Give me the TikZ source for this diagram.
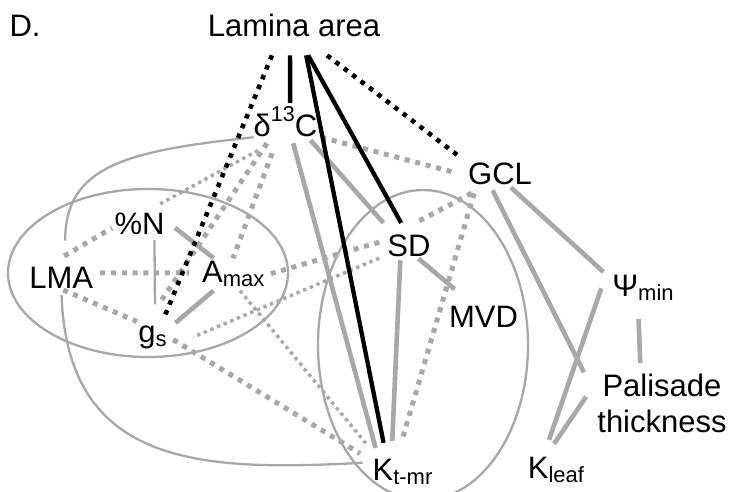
\documentclass[tikz,border=0pt]{standalone}
\usepackage{fontspec}
\setmainfont{Liberation Sans}
\definecolor{linkgray}{RGB}{168,168,168}
\newcommand{\subtxt}[1]{\raisebox{-4pt}{\fontsize{22}{24}\selectfont #1}}
\newcommand{\suptxt}[1]{\raisebox{15pt}{\fontsize{21.5}{24}\selectfont #1}}
\tikzset{
  txt/.style={anchor=base, inner sep=0pt, outer sep=0pt, font=\fontsize{31}{36}\selectfont},
  strong/.style={line width=4.3pt, black},
  strongdot/.style={line width=4.6pt, black, dash pattern=on 4.6pt off 6pt},
  link/.style={line width=4.6pt, linkgray},
  linkdot/.style={line width=5pt, linkgray, dash pattern=on 5pt off 5.8pt},
  faint/.style={line width=2.3pt, linkgray},
  faintdot/.style={line width=3.4pt, linkgray, dash pattern=on 3.4pt off 3.8pt},
}
\begin{document}
\begin{tikzpicture}[x=1pt, y=1pt]
\useasboundingbox[fill=white] (0,0) rectangle (732,491);
% trait nodes
\node[txt] (panel) at (25,454) {D.};
\node[txt] (lamina) at (294,454) {Lamina area};
\node[txt] (dC) at (285.5,354) {δ\suptxt{13}C};
\node[txt] (gcl) at (500,306) {GCL};
\node[txt] (pn) at (139.5,256) {\%N};
\node[txt] (lma) at (61.3,203) {LMA};
\node[txt] (amax) at (233.3,208) {A\subtxt{max}};
\node[txt] (sd) at (409,234) {SD};
\node[txt] (gs) at (152.5,149) {g\subtxt{s}};
\node[txt] (psi) at (643,194) {Ψ\subtxt{min}};
\node[txt] (mvd) at (483.5,164) {MVD};
\node[txt, anchor=center, align=center] (pal) at (662,87.3) {Palisade\\thickness};
\node[txt] (ktmr) at (402.5,11) {K\subtxt{t-mr}};
\node[txt] (kleaf) at (556,13) {K\subtxt{leaf}};
% groups
\begin{scope}
\clip (0,0) rectangle (732,491);
\draw[faint] (148,218) ellipse [x radius=140pt, y radius=84pt];
\draw[faint] (423,146) ellipse [x radius=105pt, y radius=155pt];
\end{scope}
\draw[faint, shorten >=26pt] (dC.south west) .. controls +(186:130) and +(90:100) .. (lma.70);
\draw[faint, shorten <=7pt, shorten >=10pt] (lma.south) .. controls +(-88:180) and +(183:170) .. (ktmr.163.6);
% weak links
\draw[faintdot, shorten <=27.4pt, shorten >=19.8pt] (dC.-103) -- (pn.74.7);
\draw[faintdot, shorten <=9pt, shorten >=29pt] (sd.-159.6) -- (gs.-39);
\draw[faintdot, shorten <=4.5pt, shorten >=17.8pt] (amax.-73.7) -- (ktmr.152.9);
\draw[faint, shorten <=5pt, shorten >=20.9pt] (pn.-36.1) -- (gs.77.5);
% negative links
\draw[linkdot, shorten <=21pt, shorten >=2.9pt] (lma.145.6) -- (pn.-175.7);
\draw[linkdot, shorten <=7pt, shorten >=13pt] (lma.8.4) -- (amax.177.2);
\draw[linkdot, shorten <=5pt, shorten >=9.8pt] (lma.-104.4) -- (gs.120);
\draw[linkdot, shorten <=4.1pt, shorten >=12.5pt] (dC.-24.7) -- (gcl.-177.1);
\draw[linkdot, shorten <=17.1pt, shorten >=3.6pt] (dC.-116.6) -- (amax.97);
\draw[linkdot, shorten <=7.2pt, shorten >=27.5pt] (dC.-134) -- (gs.124.6);
\draw[linkdot, shorten <=8.6pt, shorten >=6.8pt] (sd.163.8) -- (amax.-2.5);
\draw[linkdot, shorten <=31pt, shorten >=10.7pt] (sd.147) -- (gcl.-141.6);
\draw[linkdot, shorten <=8.3pt, shorten >=20.6pt] (gcl.-155) -- (ktmr.115.7);
\draw[linkdot, shorten <=7.8pt, shorten >=14.7pt] (gs.5) -- (ktmr.161.3);
% positive links
\draw[link, shorten <=13.4pt, shorten >=5.5pt] (pn.11.3) -- (amax.140.7);
\draw[link, shorten <=5.3pt, shorten >=11.5pt] (amax.-141.4) -- (gs.25.6);
\draw[link, shorten <=4pt, shorten >=16.6pt] (dC.-34.5) -- (sd.143);
\draw[link, shorten <=6.2pt, shorten >=11.2pt] (dC.-68.5) -- (ktmr.152.3);
\draw[link, shorten <=2pt, shorten >=25.6pt] (sd.-54.7) -- (mvd.131.2);
\draw[link, shorten <=3pt, shorten >=17.8pt] (sd.-128.2) -- (ktmr.131.2);
\draw[link, shorten <=3pt, shorten >=12.2pt] (gcl.-52.6) -- (psi.165.7);
\draw[link, shorten <=5.6pt, shorten >=29.9pt] (gcl.-132.4) -- (pal.176.5);
\draw[link, shorten >=17.8pt] ([shift={(-11,0)}]psi.west) -- (kleaf.135);
\draw[link, shorten <=18pt, shorten >=11.4pt] (psi.-112.8) -- (pal.126.3);
\draw[link, shorten <=20pt, shorten >=15.6pt] (pal.160.3) -- (kleaf.130.4);
% lamina area
\draw[strong, shorten <=18pt, shorten >=4pt] (lamina.-109.5) -- (dC.73.3);
\draw[strong, shorten <=20.6pt, shorten >=14.2pt] (lamina.-70.5) -- (sd.95.6);
\draw[strong, shorten <=18.4pt, shorten >=16.1pt] (lamina.-53.4) -- (ktmr.141.8);
\draw[strongdot, shorten <=19.5pt, shorten >=11.8pt] (lamina.-142.3) -- (gs.54.7);
\draw[strongdot, shorten <=29.7pt, shorten >=12.7pt] (lamina.-50.2) -- (gcl.161);
\end{tikzpicture}
\end{document}
